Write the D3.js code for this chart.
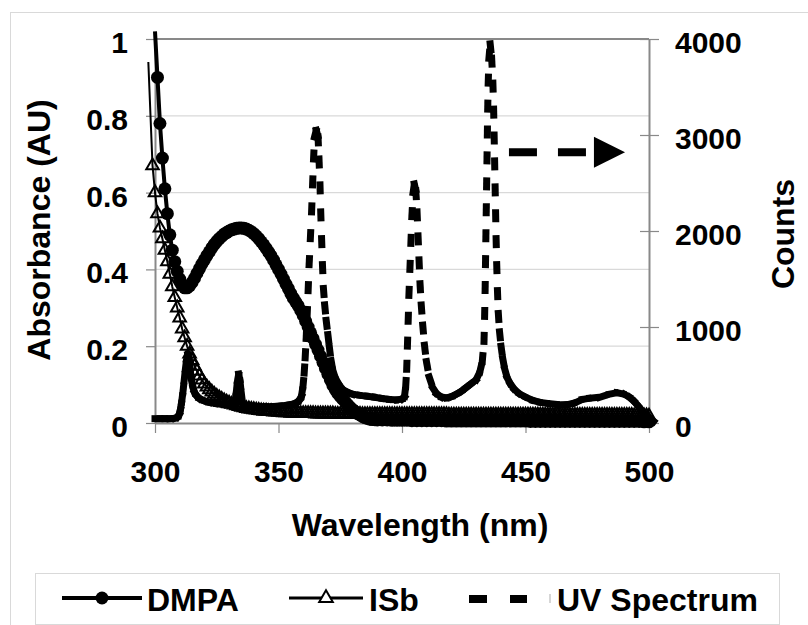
<!DOCTYPE html>
<html>
<head>
<meta charset="utf-8">
<script src="https://cdn.jsdelivr.net/npm/d3@7"></script>
<style>
  body { margin: 0; background: #fff; }
  svg { display: block; }
  text { font-family: "Liberation Sans", Arial, sans-serif; font-weight: bold; fill: #000; }
</style>
</head>
<body>
<div id="plot"></div>
<script>
// tick labels
const wlTicks = [300, 350, 400, 450, 500];
const absTicks = [0, 0.2, 0.4, 0.6, 0.8, 1];
const countTicks = [0, 1000, 2000, 3000, 4000];

// DMPA absorbance
const dmpaWl = [300,301,302,303,304,305,306,307,308,309,310,311,312,313,314,315,316,317,318,319,
  320,321,322,323,324,325,326,327,328,329,330,331,332,333,334,335,336,337,338,339,
  340,341,342,343,344,345,346,347,348,349,350,351,352,353,354,355,356,357,358,359,
  360,361,362,363,364,365,366,367,368,369,370,371,372,373,374,375,376,377,378,379,
  380,381,382,383,384,385,386,387,388,389,390,392,394,396,398,400,
  402,404,406,408,410,412,414,416,418,420,422,424,426,428,430,432,434,436,438,440,
  442,444,446,448,450,452,454,456,458,460,462,464,466,468,470,472,474,476,478,480,
  482,484,486,488,490,492,494,496,498,500];
const dmpaAbs = [1.02,0.90,0.78,0.69,0.61,0.545,0.49,0.45,0.42,0.395,0.375,0.36,0.352,0.352,0.357,0.366,0.377,0.39,0.402,0.414,
  0.425,0.436,0.446,0.456,0.465,0.473,0.48,0.486,0.492,0.496,0.5,0.503,0.505,0.507,0.508,0.508,0.507,0.505,0.502,0.498,
  0.493,0.487,0.48,0.472,0.464,0.455,0.445,0.435,0.424,0.412,0.40,0.388,0.375,0.362,0.35,0.337,0.325,0.315,0.305,0.293,
  0.28,0.265,0.25,0.235,0.22,0.205,0.19,0.174,0.158,0.142,0.127,0.112,0.098,0.087,0.077,0.069,0.062,0.055,0.048,0.041,
  0.035,0.03,0.025,0.021,0.017,0.014,0.012,0.010,0.009,0.0085,0.008,0.008,0.008,0.007,0.007,0.007,
  0.007,0.006,0.006,0.006,0.006,0.006,0.006,0.006,0.005,0.005,0.005,0.005,0.005,0.005,0.005,0.005,0.005,0.005,0.005,0.005,
  0.005,0.005,0.005,0.005,0.005,0.004,0.004,0.004,0.004,0.004,0.004,0.004,0.004,0.004,0.004,0.004,0.004,0.004,0.004,0.004,
  0.004,0.004,0.004,0.004,0.004,0.004,0.004,0.004,0.003,0.003];

// ISb absorbance
const isbWl = [297.3,299,
  300,301,302,303,304,305,306,307,308,309,310,311,312,313,314,315,316,317,318,319,
  320,321,322,323,324,325,326,327,328,329,330,331,332,333,334,335,336,337,338,339,
  340,341,342,343,344,345,346,347,348,349,350,351,352,353,354,355,356,357,358,359,
  360,361,362,363,364,365,366,367,368,369,370,371,372,373,374,375,376,377,378,379,
  380,381,382,383,384,385,386,387,388,389,390,391,392,393,394,395,396,397,398,399,
  400,401,402,403,404,405,406,407,408,409,410,411,412,413,414,415,416,417,418,419,
  420,421,422,423,424,425,426,427,428,429,430,431,432,433,434,435,436,437,438,439,
  440,441,442,443,444,445,446,447,448,449,450,451,452,453,454,455,456,457,458,459,
  460,461,462,463,464,465,466,467,468,469,470,471,472,473,474,475,476,477,478,479,
  480,481,482,483,484,485,486,487,488,489,490,491,492,493,494,495,496,497,498,499,500];
const isbAbs = [0.94,0.67,
  0.60,0.545,0.508,0.48,0.45,0.42,0.388,0.355,0.327,0.30,0.274,0.245,0.222,0.2,0.18,0.163,0.148,0.135,0.123,0.112,
  0.102,0.094,0.087,0.081,0.075,0.07,0.066,0.062,0.058,0.055,0.052,0.049,0.047,0.045,0.043,0.041,0.040,0.038,0.037,0.036,
  0.035,0.034,0.033,0.032,0.031,0.031,0.030,0.030,0.029,0.029,0.028,0.028,0.027,0.027,0.027,0.026,0.026,0.026,0.026,0.025,
  0.025,0.025,0.025,0.025,0.025,0.024,0.024,0.024,0.024,0.024,0.024,0.024,0.024,0.023,0.023,0.023,0.023,0.023,0.023,0.023,
  0.023,0.023,0.023,0.023,0.022,0.022,0.022,0.022,0.022,0.022,0.022,0.022,0.022,0.022,0.022,0.022,0.022,0.022,0.022,0.022,
  0.022,0.022,0.022,0.022,0.022,0.022,0.022,0.022,0.022,0.022,0.022,0.022,0.022,0.022,0.022,0.022,0.022,0.022,0.022,0.021,
  0.021,0.021,0.021,0.021,0.021,0.021,0.021,0.021,0.021,0.021,0.021,0.021,0.021,0.021,0.021,0.021,0.021,0.021,0.021,0.021,
  0.021,0.021,0.021,0.021,0.021,0.021,0.021,0.021,0.021,0.021,0.021,0.021,0.021,0.021,0.021,0.021,0.021,0.021,0.021,0.021,
  0.021,0.021,0.021,0.021,0.021,0.020,0.020,0.020,0.020,0.020,0.020,0.020,0.020,0.020,0.020,0.020,0.020,0.020,0.020,0.020,
  0.020,0.020,0.020,0.020,0.020,0.020,0.020,0.020,0.020,0.020,0.020,0.020,0.020,0.020,0.019,0.019,0.019,0.019,0.019,0.019,0.018];

// UV spectrum (secondary axis, counts)
const uvWl = [300,302,304,306,308,309,309.8,310.3,310.8,311.3,311.8,312.3,312.8,313.3,313.8,314.3,314.8,315.4,316,317,318,320,322,325,328,331,
  332.4,332.9,333.4,333.9,334.4,334.9,335.4,336.5,339,342,345,348,351,354,356,357.5,358.5,359.3,359.9,
  360.4,360.8,361.2,361.6,362,362.4,362.9,363.4,363.8,364.2,364.6,365.3,366.0,366.4,366.8,367.1,367.45,367.8,368.2,368.7,369.3,370,370.6,371.3,372,373,374.5,376,378,380,383,386,389,392,395,398,400,
  401,401.5,401.9,402.2,402.5,402.8,403.2,403.6,404,404.5,405,405.6,406.1,406.5,406.9,407.3,407.8,408.4,409.1,409.9,411,412.5,414,416,418,420,422,424,426,428,430,431.5,432.5,
  433.2,433.45,433.65,433.8,433.95,434.1,434.25,434.4,434.55,434.7,434.9,435.2,435.7,436.3,436.8,437.1,437.3,437.5,437.7,437.9,438.1,438.35,438.65,439,439.5,440.1,440.8,441.6,442.6,443.8,445.5,447.5,450,453,456,460,464,467,470,473,476,480,484,487,490,492,494,496,498,500,502];
const uvCounts = [45,45,45,45,50,60,90,140,220,320,440,560,660,715,660,540,440,370,320,280,255,230,215,200,190,190,
  215,320,440,510,440,320,215,185,175,170,170,172,178,188,198,215,240,280,380,
  520,680,880,1120,1380,1650,1920,2200,2480,2750,2980,3050,2980,2750,2480,2200,1920,1650,1400,1230,1070,920,790,650,550,470,400,350,320,300,288,278,268,255,245,240,250,
  275,380,560,800,1060,1330,1600,1870,2150,2400,2490,2420,2200,1950,1700,1450,1230,1020,810,640,480,365,305,270,262,275,300,330,370,410,450,530,640,
  850,1110,1380,1650,1920,2190,2460,2730,3000,3270,3540,3800,3950,3800,3540,3270,3000,2730,2460,2190,1920,1650,1380,1140,950,800,670,560,470,410,350,305,270,235,215,200,190,192,210,245,258,268,300,315,300,270,225,165,105,55,15];

// dashed arrow pointing at the Counts axis (wavelength start/end, counts level)
const arrowDashWl = [443.3, 477.5];
const arrowTipWl = [477.7, 490.3];
const arrowCount = 2820;

const seriesNames = ["DMPA", "ISb", "UV Spectrum"];

window.addEventListener("load", main);

function main(){
  const width = 808, height = 625;
  const grey = "#898989", light = "#d9d9d9";

  const svg = d3.select("#plot").append("svg")
    .attr("width", width).attr("height", height);

  // outer chart border
  svg.append("rect")
    .attr("x", 10.5).attr("y", 12.5).attr("width", 900).attr("height", 700)
    .attr("fill", "none").attr("stroke", light);

  const x = d3.scaleLinear().domain([300, 500]).range([155, 649]);
  const yL = d3.scaleLinear().domain([0, 1]).range([423, 39]);
  const yR = d3.scaleLinear().domain([0, 4000]).range([423, 39]);

  // gridlines
  svg.append("g").selectAll("line")
    .data(absTicks.filter(d => d > 0 && d < 1))
    .join("line")
    .attr("x1", x(300)).attr("x2", x(500))
    .attr("y1", d => yL(d)).attr("y2", d => yL(d))
    .attr("stroke", light).attr("stroke-width", 1.2);

  // plot border top
  svg.append("line")
    .attr("x1", x(300)).attr("x2", x(500)).attr("y1", yL(1)).attr("y2", yL(1))
    .attr("stroke", grey).attr("stroke-width", 2);

  // left axis
  svg.append("g")
    .attr("transform", `translate(${x(300)},0)`)
    .call(d3.axisLeft(yL).tickValues(absTicks).tickFormat(d => d).tickSize(9).tickSizeOuter(0).tickPadding(18))
    .call(g => g.select(".domain").attr("stroke", grey).attr("stroke-width", 2))
    .call(g => g.selectAll(".tick line").attr("stroke", grey).attr("stroke-width", 1.2))
    .call(g => g.selectAll(".tick text").attr("font-size", 30).attr("dy", "0.45em")
      .attr("font-family", null));

  // right axis
  svg.append("g")
    .attr("transform", `translate(${x(500)},0)`)
    .call(d3.axisRight(yR).tickValues(countTicks).tickFormat(d => d).tickSize(10).tickSizeOuter(0).tickPadding(16))
    .call(g => g.select(".domain").attr("stroke", grey).attr("stroke-width", 2))
    .call(g => g.selectAll(".tick line").attr("x1", -9).attr("stroke", grey).attr("stroke-width", 1.2))
    .call(g => g.selectAll(".tick text").attr("font-size", 30).attr("dy", "0.45em")
      .attr("font-family", null));

  // bottom axis
  svg.append("g")
    .attr("transform", `translate(0,${yL(0)})`)
    .call(d3.axisBottom(x).tickValues(wlTicks).tickFormat(d => d).tickSize(10).tickSizeOuter(0).tickPadding(28))
    .call(g => g.select(".domain").attr("stroke", grey).attr("stroke-width", 2))
    .call(g => g.selectAll(".tick line").attr("stroke", grey).attr("stroke-width", 1.2))
    .call(g => g.selectAll(".tick text").attr("font-size", 30).attr("font-family", null));

  // axis titles
  svg.append("text").attr("x", 420).attr("y", 536).attr("text-anchor", "middle")
    .attr("font-size", 32).text("Wavelength (nm)");
  svg.append("text").attr("transform", "translate(50,230) rotate(-90)").attr("text-anchor", "middle")
    .attr("font-size", 32).text("Absorbance (AU)");
  svg.append("text").attr("transform", "translate(794,234) rotate(-90)").attr("text-anchor", "middle")
    .attr("font-size", 32).text("Counts");

  const lineL = d3.line().x(d => x(d[0])).y(d => yL(d[1]));

  // DMPA
  const dmpa = dmpaWl.map((w, i) => [w, dmpaAbs[i]]);
  svg.append("path").datum(dmpa)
    .attr("d", lineL).attr("fill", "none").attr("stroke", "#000")
    .attr("stroke-width", 4).attr("stroke-linejoin", "round");
  svg.append("g").selectAll("circle").data(dmpa.slice(1)).join("circle")
    .attr("cx", d => x(d[0])).attr("cy", d => yL(d[1])).attr("r", 6.5).attr("fill", "#000");

  // ISb
  const isb = isbWl.map((w, i) => [w, isbAbs[i]]);
  svg.append("path").datum(isb)
    .attr("d", lineL).attr("fill", "none").attr("stroke", "#000")
    .attr("stroke-width", 2).attr("stroke-linejoin", "round");
  const tri = d3.symbol().type(d3.symbolTriangle).size(68);
  svg.append("g").selectAll("path").data(isb.slice(1)).join("path")
    .attr("d", tri)
    .attr("transform", d => `translate(${x(d[0])},${yL(d[1])})`)
    .attr("fill", "none").attr("stroke", "#000").attr("stroke-width", 2);

  // UV spectrum: each segment restarts the dash pattern, like Excel does
  const uv = uvWl.map((w, i) => [w, uvCounts[i]]);
  svg.append("g").selectAll("line").data(d3.pairs(uv)).join("line")
    .attr("x1", d => x(d[0][0])).attr("y1", d => yR(d[0][1]))
    .attr("x2", d => x(d[1][0])).attr("y2", d => yR(d[1][1]))
    .attr("stroke", "#000").attr("stroke-width", 7)
    .attr("stroke-linecap", "square").attr("stroke-dasharray", "6,100");

  // arrow annotation
  const ay = yR(arrowCount);
  svg.append("line")
    .attr("x1", x(arrowDashWl[0])).attr("x2", x(arrowDashWl[1]))
    .attr("y1", ay).attr("y2", ay)
    .attr("stroke", "#000").attr("stroke-width", 8).attr("stroke-dasharray", "28,21");
  svg.append("path")
    .attr("d", `M${x(arrowTipWl[0])},${ay - 15.5}L${x(arrowTipWl[1])},${ay}L${x(arrowTipWl[0])},${ay + 15.5}Z`)
    .attr("fill", "#000");

  // legend
  const lg = svg.append("g");
  lg.append("rect").attr("x", 35.5).attr("y", 573.5).attr("width", 744).attr("height", 51)
    .attr("fill", "#fff").attr("stroke", light);
  const ly = 598;
  lg.append("line").attr("x1", 62).attr("x2", 142).attr("y1", ly).attr("y2", ly)
    .attr("stroke", "#000").attr("stroke-width", 4);
  lg.append("circle").attr("cx", 102).attr("cy", ly).attr("r", 6.5).attr("fill", "#000");
  lg.append("line").attr("x1", 289).attr("x2", 363).attr("y1", ly).attr("y2", ly)
    .attr("stroke", "#000").attr("stroke-width", 3);
  lg.append("path").attr("d", d3.symbol().type(d3.symbolTriangle).size(80)).attr("transform", `translate(326,${ly})`)
    .attr("fill", "#fff").attr("stroke", "#000").attr("stroke-width", 2);
  lg.append("line").attr("x1", 469).attr("x2", 527).attr("y1", ly + 1).attr("y2", ly + 1)
    .attr("stroke", "#000").attr("stroke-width", 8).attr("stroke-dasharray", "18,23");
  lg.append("line").attr("x1", 550).attr("x2", 550).attr("y1", ly - 4).attr("y2", ly + 5)
    .attr("stroke", "#c8c8c8").attr("stroke-width", 1.5);
  const lx = [147, 369, 557];
  lg.selectAll("text.leg").data(seriesNames).join("text")
    .attr("class", "leg")
    .attr("x", (d, i) => lx[i]).attr("y", 611)
    .attr("font-size", 32).text(d => d);
}
</script>
</body>
</html>
